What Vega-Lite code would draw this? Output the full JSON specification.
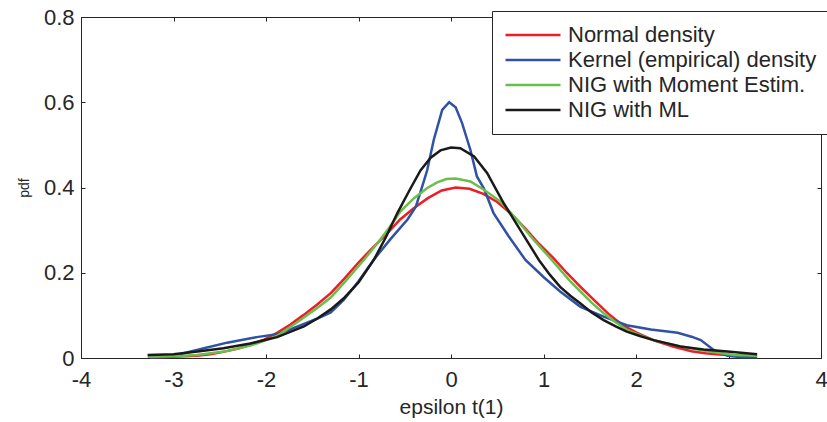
{
 "$schema": "https://vega.github.io/schema/vega-lite/v6.json",
 "width": 740, "height": 341,
 "autosize": {"type": "none"},
 "padding": {"left": 81, "top": 17, "right": 6, "bottom": 64},
 "background": "white",
 "config": {"view": {"stroke": null}, "font": "Liberation Sans"},
 "data": {"values": [
  {"series":"Normal density","x":-3.25,"y":0.002},{"series":"Normal density","x":-3.0,"y":0.003},{"series":"Normal density","x":-2.75,"y":0.005},{"series":"Normal density","x":-2.6,"y":0.009},{"series":"Normal density","x":-2.45,"y":0.015},{"series":"Normal density","x":-2.3,"y":0.022},{"series":"Normal density","x":-2.17,"y":0.031},{"series":"Normal density","x":-2.02,"y":0.043},{"series":"Normal density","x":-1.88,"y":0.059},{"series":"Normal density","x":-1.74,"y":0.078},{"series":"Normal density","x":-1.6,"y":0.1},{"series":"Normal density","x":-1.45,"y":0.125},{"series":"Normal density","x":-1.3,"y":0.152},{"series":"Normal density","x":-1.15,"y":0.187},{"series":"Normal density","x":-1.0,"y":0.224},{"series":"Normal density","x":-0.85,"y":0.258},{"series":"Normal density","x":-0.7,"y":0.29},{"series":"Normal density","x":-0.55,"y":0.325},{"series":"Normal density","x":-0.4,"y":0.352},{"series":"Normal density","x":-0.25,"y":0.375},{"series":"Normal density","x":-0.1,"y":0.393},{"series":"Normal density","x":0.05,"y":0.4},{"series":"Normal density","x":0.2,"y":0.397},{"series":"Normal density","x":0.35,"y":0.385},{"series":"Normal density","x":0.5,"y":0.366},{"series":"Normal density","x":0.65,"y":0.338},{"series":"Normal density","x":0.8,"y":0.305},{"series":"Normal density","x":0.95,"y":0.268},{"series":"Normal density","x":1.1,"y":0.236},{"series":"Normal density","x":1.25,"y":0.2},{"series":"Normal density","x":1.4,"y":0.167},{"series":"Normal density","x":1.55,"y":0.135},{"series":"Normal density","x":1.7,"y":0.104},{"series":"Normal density","x":1.85,"y":0.078},{"series":"Normal density","x":2.0,"y":0.06},{"series":"Normal density","x":2.2,"y":0.041},{"series":"Normal density","x":2.4,"y":0.027},{"series":"Normal density","x":2.6,"y":0.016},{"series":"Normal density","x":2.75,"y":0.011},{"series":"Normal density","x":2.9,"y":0.008},{"series":"Normal density","x":3.1,"y":0.006},{"series":"Normal density","x":3.3,"y":0.005},
  {"series":"Kernel (empirical) density","x":-3.25,"y":0.001},{"series":"Kernel (empirical) density","x":-3.03,"y":0.003},{"series":"Kernel (empirical) density","x":-2.89,"y":0.011},{"series":"Kernel (empirical) density","x":-2.67,"y":0.023},{"series":"Kernel (empirical) density","x":-2.42,"y":0.036},{"series":"Kernel (empirical) density","x":-2.25,"y":0.043},{"series":"Kernel (empirical) density","x":-2.1,"y":0.049},{"series":"Kernel (empirical) density","x":-1.88,"y":0.056},{"series":"Kernel (empirical) density","x":-1.75,"y":0.066},{"series":"Kernel (empirical) density","x":-1.59,"y":0.08},{"series":"Kernel (empirical) density","x":-1.45,"y":0.092},{"series":"Kernel (empirical) density","x":-1.3,"y":0.107},{"series":"Kernel (empirical) density","x":-1.16,"y":0.136},{"series":"Kernel (empirical) density","x":-1.0,"y":0.18},{"series":"Kernel (empirical) density","x":-0.83,"y":0.232},{"series":"Kernel (empirical) density","x":-0.65,"y":0.28},{"series":"Kernel (empirical) density","x":-0.47,"y":0.325},{"series":"Kernel (empirical) density","x":-0.38,"y":0.355},{"series":"Kernel (empirical) density","x":-0.3,"y":0.41},{"series":"Kernel (empirical) density","x":-0.257,"y":0.441},{"series":"Kernel (empirical) density","x":-0.186,"y":0.512},{"series":"Kernel (empirical) density","x":-0.095,"y":0.582},{"series":"Kernel (empirical) density","x":-0.02,"y":0.6},{"series":"Kernel (empirical) density","x":0.05,"y":0.588},{"series":"Kernel (empirical) density","x":0.12,"y":0.551},{"series":"Kernel (empirical) density","x":0.21,"y":0.488},{"series":"Kernel (empirical) density","x":0.28,"y":0.426},{"series":"Kernel (empirical) density","x":0.355,"y":0.398},{"series":"Kernel (empirical) density","x":0.46,"y":0.34},{"series":"Kernel (empirical) density","x":0.625,"y":0.285},{"series":"Kernel (empirical) density","x":0.805,"y":0.23},{"series":"Kernel (empirical) density","x":1.0,"y":0.19},{"series":"Kernel (empirical) density","x":1.18,"y":0.156},{"series":"Kernel (empirical) density","x":1.4,"y":0.12},{"series":"Kernel (empirical) density","x":1.65,"y":0.097},{"series":"Kernel (empirical) density","x":1.9,"y":0.077},{"series":"Kernel (empirical) density","x":2.16,"y":0.067},{"series":"Kernel (empirical) density","x":2.45,"y":0.059},{"series":"Kernel (empirical) density","x":2.6,"y":0.05},{"series":"Kernel (empirical) density","x":2.7,"y":0.042},{"series":"Kernel (empirical) density","x":2.84,"y":0.019},{"series":"Kernel (empirical) density","x":2.99,"y":0.005},{"series":"Kernel (empirical) density","x":3.15,"y":0.002},{"series":"Kernel (empirical) density","x":3.31,"y":0.002},
  {"series":"NIG with Moment Estim.","x":-3.28,"y":0.003},{"series":"NIG with Moment Estim.","x":-3.0,"y":0.004},{"series":"NIG with Moment Estim.","x":-2.75,"y":0.007},{"series":"NIG with Moment Estim.","x":-2.45,"y":0.015},{"series":"NIG with Moment Estim.","x":-2.17,"y":0.029},{"series":"NIG with Moment Estim.","x":-2.02,"y":0.04},{"series":"NIG with Moment Estim.","x":-1.88,"y":0.052},{"series":"NIG with Moment Estim.","x":-1.74,"y":0.072},{"series":"NIG with Moment Estim.","x":-1.59,"y":0.095},{"series":"NIG with Moment Estim.","x":-1.45,"y":0.117},{"series":"NIG with Moment Estim.","x":-1.3,"y":0.142},{"series":"NIG with Moment Estim.","x":-1.15,"y":0.178},{"series":"NIG with Moment Estim.","x":-0.943,"y":0.23},{"series":"NIG with Moment Estim.","x":-0.8,"y":0.268},{"series":"NIG with Moment Estim.","x":-0.67,"y":0.305},{"series":"NIG with Moment Estim.","x":-0.546,"y":0.344},{"series":"NIG with Moment Estim.","x":-0.4,"y":0.375},{"series":"NIG with Moment Estim.","x":-0.257,"y":0.399},{"series":"NIG with Moment Estim.","x":-0.15,"y":0.412},{"series":"NIG with Moment Estim.","x":-0.05,"y":0.42},{"series":"NIG with Moment Estim.","x":0.05,"y":0.421},{"series":"NIG with Moment Estim.","x":0.21,"y":0.414},{"series":"NIG with Moment Estim.","x":0.36,"y":0.394},{"series":"NIG with Moment Estim.","x":0.535,"y":0.367},{"series":"NIG with Moment Estim.","x":0.715,"y":0.324},{"series":"NIG with Moment Estim.","x":0.895,"y":0.277},{"series":"NIG with Moment Estim.","x":1.09,"y":0.23},{"series":"NIG with Moment Estim.","x":1.18,"y":0.207},{"series":"NIG with Moment Estim.","x":1.29,"y":0.18},{"series":"NIG with Moment Estim.","x":1.4,"y":0.156},{"series":"NIG with Moment Estim.","x":1.52,"y":0.13},{"series":"NIG with Moment Estim.","x":1.65,"y":0.105},{"series":"NIG with Moment Estim.","x":1.78,"y":0.084},{"series":"NIG with Moment Estim.","x":1.9,"y":0.066},{"series":"NIG with Moment Estim.","x":2.05,"y":0.053},{"series":"NIG with Moment Estim.","x":2.19,"y":0.042},{"series":"NIG with Moment Estim.","x":2.48,"y":0.027},{"series":"NIG with Moment Estim.","x":2.8,"y":0.015},{"series":"NIG with Moment Estim.","x":3.06,"y":0.007},{"series":"NIG with Moment Estim.","x":3.31,"y":0.005},
  {"series":"NIG with ML","x":-3.28,"y":0.007},{"series":"NIG with ML","x":-3.0,"y":0.009},{"series":"NIG with ML","x":-2.74,"y":0.015},{"series":"NIG with ML","x":-2.46,"y":0.023},{"series":"NIG with ML","x":-2.17,"y":0.034},{"series":"NIG with ML","x":-1.88,"y":0.049},{"series":"NIG with ML","x":-1.59,"y":0.074},{"series":"NIG with ML","x":-1.45,"y":0.092},{"series":"NIG with ML","x":-1.3,"y":0.114},{"series":"NIG with ML","x":-1.15,"y":0.142},{"series":"NIG with ML","x":-1.0,"y":0.177},{"series":"NIG with ML","x":-0.835,"y":0.23},{"series":"NIG with ML","x":-0.7,"y":0.285},{"series":"NIG with ML","x":-0.58,"y":0.34},{"series":"NIG with ML","x":-0.45,"y":0.393},{"series":"NIG with ML","x":-0.33,"y":0.44},{"series":"NIG with ML","x":-0.22,"y":0.47},{"series":"NIG with ML","x":-0.114,"y":0.487},{"series":"NIG with ML","x":0.0,"y":0.494},{"series":"NIG with ML","x":0.1,"y":0.492},{"series":"NIG with ML","x":0.25,"y":0.473},{"series":"NIG with ML","x":0.39,"y":0.434},{"series":"NIG with ML","x":0.57,"y":0.363},{"series":"NIG with ML","x":0.75,"y":0.3},{"series":"NIG with ML","x":0.95,"y":0.23},{"series":"NIG with ML","x":1.07,"y":0.195},{"series":"NIG with ML","x":1.18,"y":0.167},{"series":"NIG with ML","x":1.29,"y":0.146},{"series":"NIG with ML","x":1.4,"y":0.128},{"series":"NIG with ML","x":1.52,"y":0.107},{"series":"NIG with ML","x":1.65,"y":0.089},{"series":"NIG with ML","x":1.78,"y":0.074},{"series":"NIG with ML","x":1.9,"y":0.062},{"series":"NIG with ML","x":2.05,"y":0.051},{"series":"NIG with ML","x":2.19,"y":0.042},{"series":"NIG with ML","x":2.48,"y":0.027},{"series":"NIG with ML","x":2.73,"y":0.02},{"series":"NIG with ML","x":2.99,"y":0.015},{"series":"NIG with ML","x":3.31,"y":0.009}
 ]},
 "layer": [
  {
   "mark": {"type": "line", "strokeWidth": 2.5},
   "encoding": {
    "x": {"field": "x", "type": "quantitative",
     "scale": {"domain": [-4, 4], "nice": false, "zero": false},
     "axis": {"orient": "bottom", "values": [-4,-3,-2,-1,0,1,2,3,4], "labelExpr": "'' + datum.value",
      "grid": false, "tickSize": -4, "labelPadding": 15, "labelFontSize": 22, "labelColor": "#262626",
      "domainColor": "#262626", "tickColor": "#262626", "title": "epsilon t(1)", "titleFontSize": 21,
      "titleFontWeight": "normal", "titleColor": "#262626", "titlePadding": 6, "labelFlush": false}},
    "y": {"field": "y", "type": "quantitative",
     "scale": {"domain": [0, 0.8], "nice": false, "zero": false},
     "axis": {"orient": "left", "values": [0, 0.2, 0.4, 0.6, 0.8],
      "labelExpr": "datum.value == 0 ? '0' : format(datum.value, '.1f')",
      "grid": false, "tickSize": -4, "labelPadding": 11, "labelFontSize": 22, "labelColor": "#262626",
      "domainColor": "#262626", "tickColor": "#262626", "title": "pdf", "titleFontSize": 14,
      "titleFontWeight": "normal", "titleColor": "#262626", "titlePadding": 12}},
    "color": {"field": "series", "type": "nominal",
     "scale": {"domain": ["Normal density", "Kernel (empirical) density", "NIG with Moment Estim.", "NIG with ML"],
      "range": ["#ee1c25", "#2f52a4", "#6abf4b", "#1a1a1a"]},
     "legend": {"title": null, "orient": "none", "legendX": 411, "legendY": -6,
      "symbolType": "stroke", "symbolSize": 3025, "symbolStrokeWidth": 2.5, "clipHeight": 24,
      "rowPadding": 1, "padding": 12, "labelOffset": 6, "labelFontSize": 22, "labelColor": "#262626",
      "labelLimit": 400, "strokeColor": "#262626", "fillColor": "white", "cornerRadius": 0}}
   }
  },
  {
   "mark": {"type": "point", "opacity": 0},
   "encoding": {
    "x": {"field": "x", "type": "quantitative",
     "axis": {"orient": "top", "values": [-4,-3,-2,-1,0,1,2,3,4], "labels": false, "grid": false,
      "tickSize": -4, "domainColor": "#262626", "tickColor": "#262626", "title": null}},
    "y": {"field": "y", "type": "quantitative",
     "axis": {"orient": "right", "values": [0, 0.2, 0.4, 0.6, 0.8], "labels": false, "grid": false,
      "tickSize": -4, "domainColor": "#262626", "tickColor": "#262626", "title": null}}
   }
  }
 ],
 "resolve": {"axis": {"x": "independent", "y": "independent"}}
}
